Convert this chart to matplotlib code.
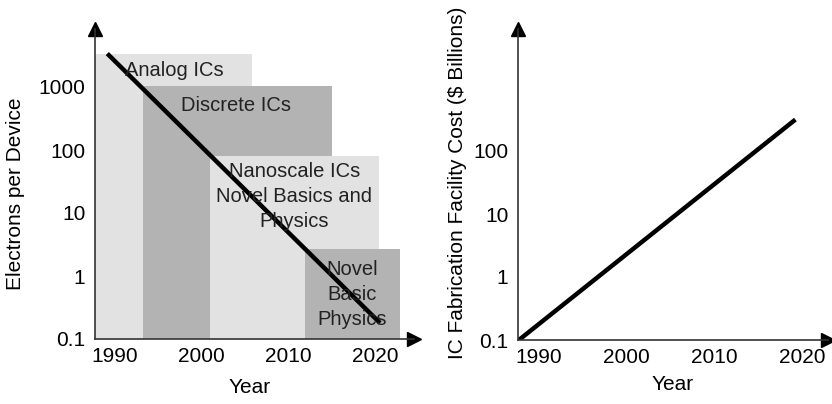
import matplotlib.pyplot as plt

plt.rcParams['font.family'] = ['Liberation Sans', 'DejaVu Sans']

# Data
year_ticks = [1990, 2000, 2010, 2020]
y_ticks_left = [0.1, 1, 10, 100, 1000]
y_ticks_right = [0.1, 1, 10, 100]

regions = ['Analog ICs', 'Discrete ICs', 'Nanoscale ICs\nNovel Basics and\nPhysics', 'Novel\nBasic\nPhysics']
region_start = [1987.7, 1993.2, 2001.0, 2011.9]
region_end = [2005.8, 2015.0, 2020.5, 2022.9]
region_top = [3300, 1050, 80, 2.7]
region_color = ['#e2e2e2', '#b3b3b3', '#e2e2e2', '#b3b3b3']
label_pos = [(1996.8, 1860), (2004.0, 515), (2010.7, 18.6), (2017.4, 0.50)]

electrons_years = [1989.3, 2020.4]
electrons = [3200, 0.19]

fab_years = [1987.8, 2019.0]
fab_cost = [0.1, 300]

FS = 15

fig = plt.figure(figsize=(8.32, 4.04), dpi=100)
W, H = 832, 404

def make_axes(x0, x1, y_top, y_bot):
    return fig.add_axes([x0 / W, (H - y_bot) / H, (x1 - x0) / W, (y_bot - y_top) / H])

def style(ax, yticks):
    ax.set_yscale('log')
    for s in ['top', 'right']:
        ax.spines[s].set_visible(False)
    for s in ['left', 'bottom']:
        ax.spines[s].set_color('#333333')
        ax.spines[s].set_linewidth(1.2)
    ax.set_xticks(year_ticks)
    ax.set_xticklabels([str(y) for y in year_ticks])
    ax.set_yticks(yticks)
    ax.set_yticklabels(['%g' % v for v in yticks])
    ax.minorticks_off()
    ax.tick_params(length=0, labelsize=FS, pad=6)
    ax.tick_params(axis='y', pad=7)
    ax.set_xlabel('Year', fontsize=FS)
    ax.plot(1, 0, '>', color='black', ms=10, transform=ax.transAxes, clip_on=False)
    ax.plot(0, 1, '^', color='black', ms=10, transform=ax.transAxes, clip_on=False)

# left panel
ax1 = make_axes(95, 414, 29, 339)
ax1.set_xlim(1987.7, 2024.5)
ax1.set_ylim(0.1, 10 ** (-1 + (339 - 29) / 63))
for s, e, t, c in zip(region_start, region_end, region_top, region_color):
    ax1.bar(s, t - 0.1, width=e - s, bottom=0.1, align='edge', color=c, zorder=1)
for name, (x, y) in zip(regions, label_pos):
    ax1.text(x, y, name, ha='center', va='center', fontsize=14.5, color='#222222',
             linespacing=1.4, zorder=3)
ax1.plot(electrons_years, electrons, color='black', lw=3.2, zorder=2)
style(ax1, y_ticks_left)
ax1.set_ylabel('Electrons per Device', fontsize=FS)
ax1.yaxis.set_label_coords(-0.22, 0.47)
ax1.xaxis.set_label_coords(0.486, -0.125)

# right panel
ax2 = make_axes(518, 828, 29, 340)
ax2.set_xlim(1987.7, 2022.9)
ax2.set_ylim(0.1, 10 ** (-1 + (340 - 29) / 63))
ax2.plot(fab_years, fab_cost, color='black', lw=3.2, zorder=2)
style(ax2, y_ticks_right)
ax2.set_ylabel('IC Fabrication Facility Cost ($ Billions)', fontsize=FS)
ax2.yaxis.set_label_coords(-0.165, 0.505)
ax2.xaxis.set_label_coords(0.5, -0.112)

fig.savefig('out.png', dpi=100)
